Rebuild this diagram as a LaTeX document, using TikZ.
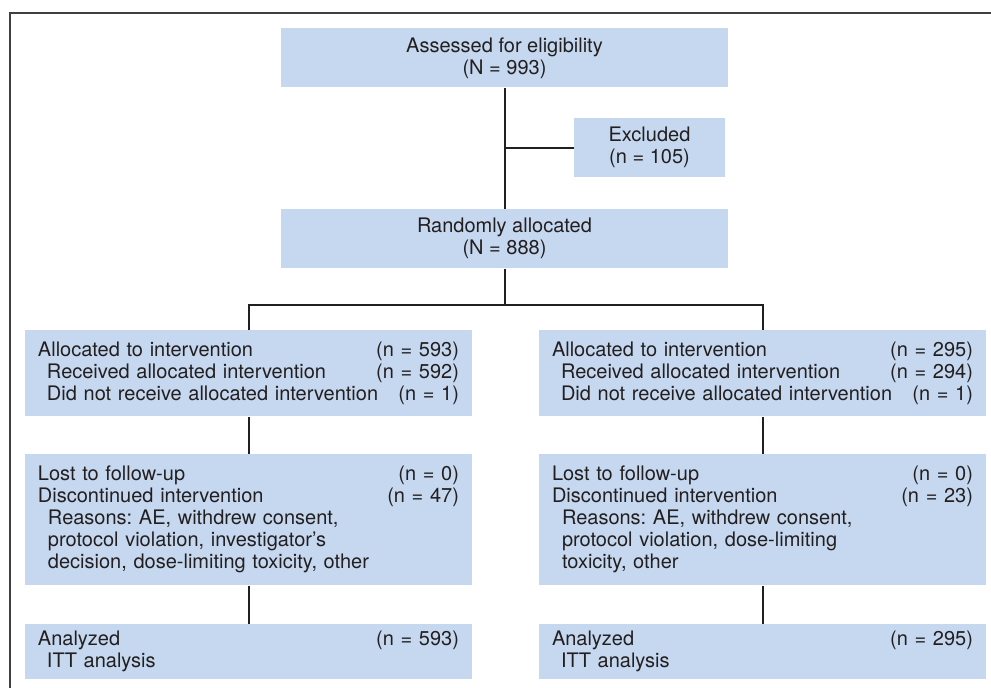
\documentclass[tikz,border=0pt]{standalone}
\usepackage{fontspec}
\setmainfont{TeX Gyre Heros}
\usetikzlibrary{positioning}

\definecolor{boxblue}{RGB}{197,216,239}
\definecolor{inkgray}{RGB}{35,31,32}
\newcommand{\countrow}[2]{#1\hfill#2}
\newcommand{\sub}{\hspace*{4.5pt}}
\frenchspacing

\begin{document}
\begin{tikzpicture}[x=0.5pt, y=-0.5pt, node distance=18.5pt,
  box/.style={fill=boxblue, text=inkgray, inner sep=0pt, font=\fontsize{10}{11}\selectfont},
  headbox/.style={box, align=center, minimum width=223.5pt, minimum height=29.5pt},
  armbox/.style={box, align=left, text width=210.5pt, inner xsep=6.5pt, minimum height=#1},
  armbox/.default=43pt,
  link/.style={draw=inkgray, line width=1pt}]

\useasboundingbox (0,0) rectangle (991,687);

% outer frame, cut by the page edge
\begin{scope}
  \clip (0,0) rectangle (991,687);
  \draw[black!75, line width=0.7pt] (10,13) rectangle (1001,697);
\end{scope}

% enrollment
\node[headbox, anchor=north] (assess) at (504.5,28) {Assessed for eligibility\\(N = 993)};
\node[box, align=center, minimum width=75.5pt, minimum height=29.5pt,
      below left=15pt and 1.5pt of assess.south east] (excl) {Excluded\\(n = 105)};
\node[headbox, below=60.5pt of assess] (rand) {Randomly allocated\\(N = 888)};

% allocation arms
\node[armbox, anchor=north] (allocL) at (248.5,330) {%
  \countrow{Allocated to intervention}{(n = 593)}\\
  \countrow{\sub Received allocated intervention}{(n = 592)}\\
  \countrow{\sub Did not receive allocated intervention}{(n = 1)}};
\node[armbox, anchor=north] (allocR) at (762.5,330) {%
  \countrow{Allocated to intervention}{(n = 295)}\\
  \countrow{\sub Received allocated intervention}{(n = 294)}\\
  \countrow{\sub Did not receive allocated intervention}{(n = 1)}};

% follow-up
\node[armbox=65.5pt, below=of allocL] (followL) {%
  \countrow{Lost to follow-up}{(n = 0)}\\
  \countrow{Discontinued intervention}{(n = 47)}\\
  \hspace*{5pt}Reasons: AE, withdrew consent,\\
  \hspace*{5pt}protocol violation, investigator’s\\
  \hspace*{5pt}decision, dose-limiting toxicity, other};
\node[armbox=65.5pt, below=of allocR] (followR) {%
  \countrow{Lost to follow-up}{(n = 0)}\\
  \countrow{Discontinued intervention}{(n = 23)}\\
  \hspace*{5pt}Reasons: AE, withdrew consent,\\
  \hspace*{5pt}protocol violation, dose-limiting\\
  \hspace*{5pt}toxicity, other};

% analysis
\node[armbox=27.5pt, below=19pt of followL] (analysL) {%
  \countrow{Analyzed}{(n = 593)}\\
  \sub ITT analysis};
\node[armbox=27.5pt, below=19pt of followR] (analysR) {%
  \countrow{Analyzed}{(n = 295)}\\
  \sub ITT analysis};

% connectors
\draw[link] (assess) -- (rand);
\draw[link] (assess |- excl) -- (excl);
\coordinate (split) at (504.5,305);
\draw[link] (rand) -- (split);
\draw[link] (allocL.north) |- (split) -| (allocR.north);
\draw[link] (allocL) -- (followL);
\draw[link] (allocR) -- (followR);
\draw[link] (followL) -- (analysL);
\draw[link] (followR) -- (analysR);

\end{tikzpicture}
\end{document}
